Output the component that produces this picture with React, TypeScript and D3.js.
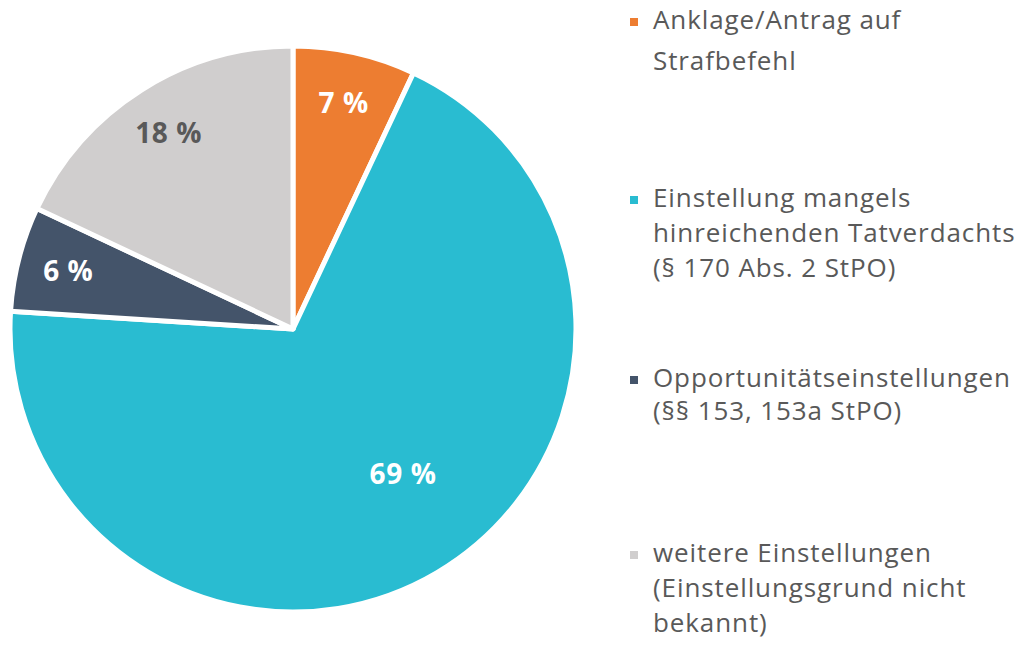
import React from "react";
import * as d3 from "d3";

const categories = [
  "Anklage/Antrag auf Strafbefehl",
  "Einstellung mangels hinreichenden Tatverdachts (§ 170 Abs. 2 StPO)",
  "Opportunitätseinstellungen (§§ 153, 153a StPO)",
  "weitere Einstellungen (Einstellungsgrund nicht bekannt)",
];
const values = [7, 69, 6, 18];
const valueLabels = ["7 %", "69 %", "6 %", "18 %"];
const legendLines = [
  ["Anklage/Antrag auf", "Strafbefehl"],
  ["Einstellung mangels", "hinreichenden Tatverdachts", "(§ 170 Abs. 2 StPO)"],
  ["Opportunitätseinstellungen", "(§§ 153, 153a StPO)"],
  ["weitere Einstellungen", "(Einstellungsgrund nicht", "bekannt)"],
];
const colors = ["#ED7D31", "#29BCD1", "#44546A", "#D0CECE"];
const labelColors = ["#FFFFFF", "#FFFFFF", "#FFFFFF", "#595959"];

const W = 1028;
const H = 646;
const cx = 293;
const cy = 329;
const R = 283;

// legend layout: first-line baseline and line spacing per entry
const legendTop = [29, 207, 387, 562];
const legendSpacing = [41, 35, 33, 35];

export default function App() {
  const pie = d3
    .pie<number>()
    .value((d) => d)
    .sort(null);
  const arcs = pie(values);
  const arc = d3.arc<d3.PieArcDatum<number>>().innerRadius(0).outerRadius(R);

  const labelPos = (a: d3.PieArcDatum<number>) => {
    let mid = (a.startAngle + a.endAngle) / 2;
    let r = 232;
    if (a.endAngle - a.startAngle > Math.PI) {
      mid -= (6.6 * Math.PI) / 180;
      r = 182;
    }
    return [Math.sin(mid) * r, -Math.cos(mid) * r];
  };

  return (
    <svg
      width={W}
      height={H}
      style={{ position: "absolute", left: 0, top: 0, background: "#fff" }}
    >
      <g transform={`translate(${cx},${cy})`}>
        {arcs.map((a, i) => (
          <path
            key={categories[i]}
            d={arc(a) || ""}
            fill={colors[i]}
            stroke="#fff"
            strokeWidth={5}
            strokeLinejoin="round"
          />
        ))}
        {arcs.map((a, i) => {
          const [x, y] = labelPos(a);
          return (
            <text
              key={"l" + i}
              x={x}
              y={y}
              dy="0.36em"
              textAnchor="middle"
              fontFamily="'Open Sans', sans-serif"
              fontWeight={700}
              fontSize={28}
              letterSpacing={0.6}
              fill={labelColors[i]}
            >
              {valueLabels[i]}
            </text>
          );
        })}
      </g>
      <g>
        {legendLines.map((lines, i) => (
          <g key={"lg" + i}>
            <rect
              x={630}
              y={legendTop[i] - 11}
              width={8}
              height={8}
              fill={colors[i]}
            />
            {lines.map((t, j) => (
              <text
                key={j}
                x={653}
                y={legendTop[i] + j * legendSpacing[i]}
                fontFamily="'Open Sans', sans-serif"
                fontSize={26}
                letterSpacing={0.9}
                fill="#595959"
              >
                {t}
              </text>
            ))}
          </g>
        ))}
      </g>
    </svg>
  );
}
